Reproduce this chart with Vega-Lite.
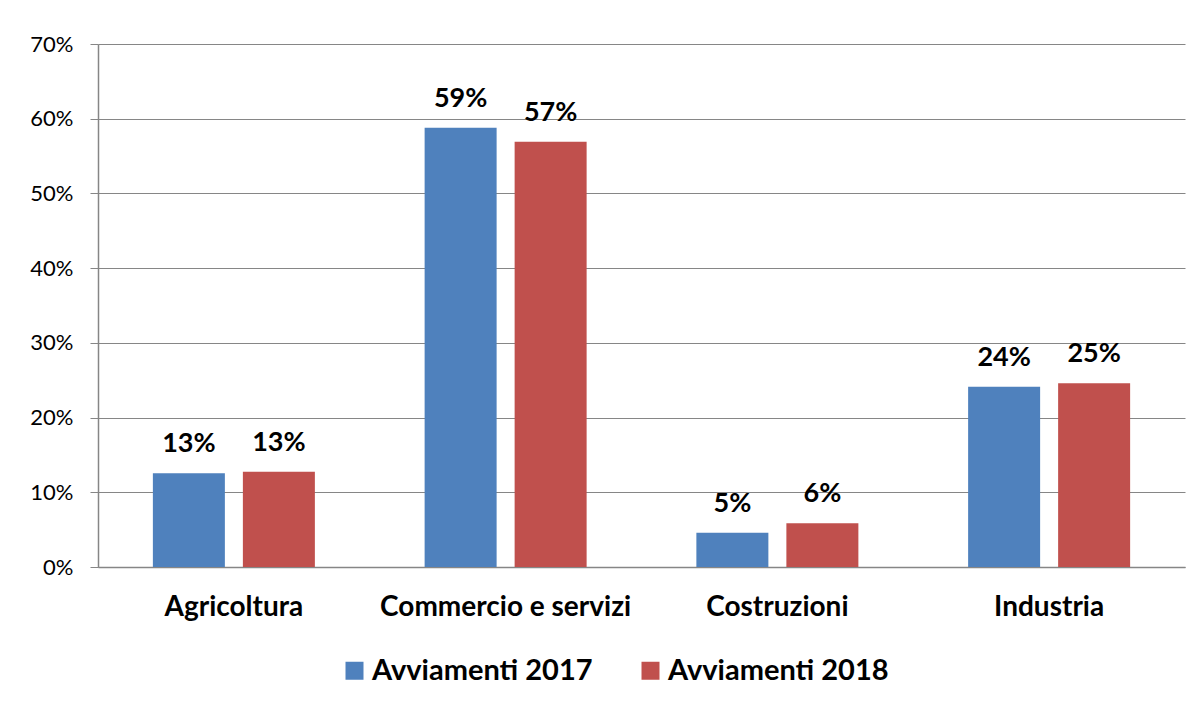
{
  "$schema": "https://vega.github.io/schema/vega-lite/v6.json",
  "width": 1087,
  "height": 523,
  "autosize": {"type": "none"},
  "padding": {"left": 98, "top": 44, "right": 14, "bottom": 139},
  "background": "white",
  "data": {
    "values": [
      {"settore": "Agricoltura", "serie": "Avviamenti 2017", "quota": 0.1255},
      {"settore": "Agricoltura", "serie": "Avviamenti 2018", "quota": 0.1276},
      {"settore": "Commercio e servizi", "serie": "Avviamenti 2017", "quota": 0.588},
      {"settore": "Commercio e servizi", "serie": "Avviamenti 2018", "quota": 0.5693},
      {"settore": "Costruzioni", "serie": "Avviamenti 2017", "quota": 0.0459},
      {"settore": "Costruzioni", "serie": "Avviamenti 2018", "quota": 0.0585},
      {"settore": "Industria", "serie": "Avviamenti 2017", "quota": 0.2413},
      {"settore": "Industria", "serie": "Avviamenti 2018", "quota": 0.2459}
    ]
  },
  "config": {
    "view": {"stroke": null},
    "font": "Lato"
  },
  "encoding": {
    "x": {
      "field": "settore",
      "type": "nominal",
      "sort": null,
      "scale": {"paddingInner": 0.3376, "paddingOuter": 0.1688},
      "axis": {
        "title": null,
        "labelAngle": 0,
        "labelFont": "Lato",
        "labelFontWeight": "bold",
        "labelFontSize": 28,
        "labelColor": "black",
        "labelPadding": 26,
        "labelLimit": 400,
        "ticks": false,
        "domainColor": "#868686",
        "domainWidth": 1.5
      }
    },
    "xOffset": {
      "field": "serie",
      "type": "nominal",
      "scale": {"paddingInner": 0.2, "paddingOuter": 0.1}
    },
    "y": {
      "field": "quota",
      "type": "quantitative",
      "scale": {"domain": [0, 0.7], "nice": false},
      "axis": {
        "title": null,
        "format": ".0%",
        "values": [0, 0.1, 0.2, 0.3, 0.4, 0.5, 0.6, 0.7],
        "labelFont": "Lato",
        "labelFontSize": 22,
        "labelColor": "black",
        "labelPadding": 17,
        "tickSize": 8,
        "tickColor": "#868686",
        "domainColor": "#868686",
        "domainWidth": 1.5,
        "gridColor": "#868686",
        "gridWidth": 1,
        "gridOpacity": 1
      }
    }
  },
  "layer": [
    {
      "mark": {"type": "bar"},
      "encoding": {
        "color": {
          "field": "serie",
          "type": "nominal",
          "scale": {"range": ["#4F81BD", "#C0504D"]},
          "legend": {
            "title": null,
            "orient": "none",
            "direction": "horizontal",
            "legendX": 242,
            "legendY": 612,
            "symbolType": "square",
            "symbolSize": 324,
            "symbolStrokeWidth": 0,
            "symbolOpacity": 1,
            "labelFont": "Lato",
            "labelFontWeight": "bold",
            "labelFontSize": 29,
            "labelColor": "black",
            "labelOffset": 3,
            "columnPadding": 43,
            "labelLimit": 400
          }
        }
      }
    },
    {
      "mark": {
        "type": "text",
        "baseline": "alphabetic",
        "dy": -21,
        "font": "Lato",
        "fontWeight": "bold",
        "fontSize": 27,
        "color": "black"
      },
      "encoding": {
        "text": {"field": "quota", "type": "quantitative", "format": ".0%"}
      }
    }
  ]
}
